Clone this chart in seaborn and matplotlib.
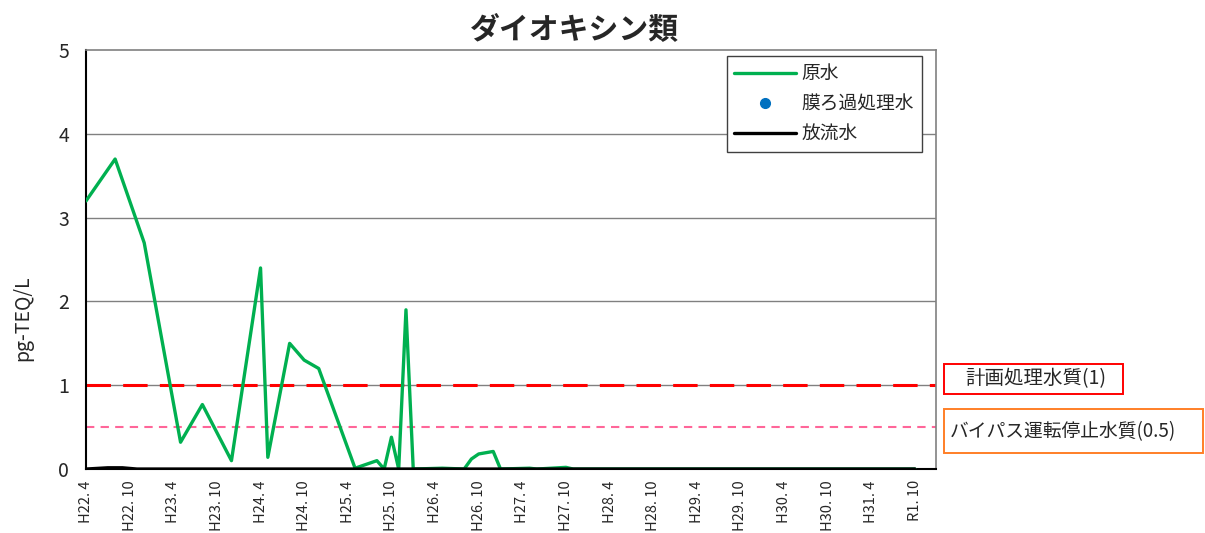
import numpy as np
import pandas as pd
import matplotlib
matplotlib.use('Agg')
import matplotlib.pyplot as plt
from matplotlib.lines import Line2D
from matplotlib.patches import Rectangle
import seaborn as sns

# months counted from H22.4 (0) onward
raw_month = [0, 4, 8, 13, 16, 20, 24, 25, 28, 30, 32, 37, 40, 41, 42, 43, 44, 45,
             49, 52, 53, 54, 56, 57, 61, 62, 66, 67, 114]
raw_val = [3.2, 3.7, 2.7, 0.32, 0.77, 0.1, 2.4, 0.14, 1.5, 1.3, 1.2, 0.01, 0.1, 0.0,
           0.38, 0.0, 1.9, 0.0, 0.01, 0.0, 0.12, 0.18, 0.21, 0.0, 0.01, 0.0, 0.02, 0.0, 0.0]
membrane_month = []
membrane_val = []
out_month = [0, 3, 5, 7, 114]
out_val = [0.0, 0.015, 0.015, 0.0, 0.0]

plan_level = 1.0
bypass_level = 0.5

tick_labels = ['H22. 4', 'H22. 10', 'H23. 4', 'H23. 10', 'H24. 4', 'H24. 10',
               'H25. 4', 'H25. 10', 'H26. 4', 'H26. 10', 'H27. 4', 'H27. 10',
               'H28. 4', 'H28. 10', 'H29. 4', 'H29. 10', 'H30. 4', 'H30. 10',
               'H31. 4', 'R1. 10']

sns.set_style('white')
plt.rcParams['font.family'] = ['Noto Sans CJK JP', 'DejaVu Sans']
plt.rcParams['xtick.direction'] = 'in'
plt.rcParams['ytick.direction'] = 'in'

fig = plt.figure(figsize=(12.05, 5.33), dpi=100)
ax = fig.add_axes([0.0714, 0.120, 0.7054, 0.786])

green = '#00B050'
for y in [1, 2, 3, 4]:
    ax.axhline(y, color='#808080', lw=1, zorder=1)

ax.axhline(plan_level, color='#FF0000', lw=2.2, dashes=(8, 4), zorder=2)
ax.axhline(bypass_level, color='#FF6699', lw=1.5, dashes=(4, 3), zorder=2)

raw_df = pd.DataFrame({'month': raw_month, 'val': raw_val})
out_df = pd.DataFrame({'month': out_month, 'val': out_val})
sns.lineplot(data=raw_df, x='month', y='val', ax=ax, color=green, lw=2.4, zorder=3)
sns.lineplot(data=out_df, x='month', y='val', ax=ax, color='black', lw=2.4, zorder=4)
ax.plot(membrane_month, membrane_val, 'o', color='#0070C0', ms=7, zorder=5)

ax.set_xlim(0, 116.9)
ax.set_ylim(0, 5)
ax.set_yticks(range(0, 6))
ax.set_yticklabels([str(i) for i in range(0, 6)], fontsize=14)
ax.set_xticks(np.arange(len(tick_labels)) * 6)
ax.set_xticklabels(tick_labels, rotation=90, fontsize=10.5)
ax.tick_params(axis='both', length=5, width=1, color='#808080')
ax.tick_params(axis='x', pad=8)
ax.tick_params(axis='y', pad=12)
ax.set_xlabel('')
ax.set_ylabel('pg-TEQ/L', fontsize=14)
ax.yaxis.set_label_coords(-0.062, 0.36)

for s in ['left', 'bottom']:
    ax.spines[s].set_color('black')
    ax.spines[s].set_linewidth(1.5)
for s in ['top', 'right']:
    ax.spines[s].set_color('#808080')
    ax.spines[s].set_linewidth(1.2)

fig.text(0.477, 0.945, 'ダイオキシン類', ha='center', va='center', fontsize=21.5, fontweight='bold')

handles = [Line2D([], [], color=green, lw=2.4),
           Line2D([], [], color='#0070C0', marker='o', ls='none', ms=7),
           Line2D([], [], color='black', lw=2.4)]
leg = ax.legend(handles, ['原水', '膜ろ過処理水', '放流水'], loc='upper right',
                bbox_to_anchor=(0.994, 1.009), fontsize=13.5, frameon=True, fancybox=False,
                handlelength=3.3, handletextpad=0.3, borderpad=0.4, labelspacing=0.5,
                framealpha=1)
leg.get_frame().set_edgecolor('#404040')
leg.get_frame().set_linewidth(1)

# reference boxes outside the plot
fig.add_artist(Rectangle((0.7834, 0.2608), 0.1486, 0.0562, transform=fig.transFigure,
                         fc='white', ec='#FF0000', lw=1.4))
fig.add_artist(Rectangle((0.7834, 0.1500), 0.2149, 0.0826, transform=fig.transFigure,
                         fc='white', ec='#FF7F27', lw=1.4))
fig.text(0.801, 0.289, '計画処理水質(1)', fontsize=14, va='center', ha='left')
fig.text(0.788, 0.1895, 'バイパス運転停止水質(0.5)', fontsize=13.5, va='center', ha='left')

fig.savefig('out.png', dpi=100)
